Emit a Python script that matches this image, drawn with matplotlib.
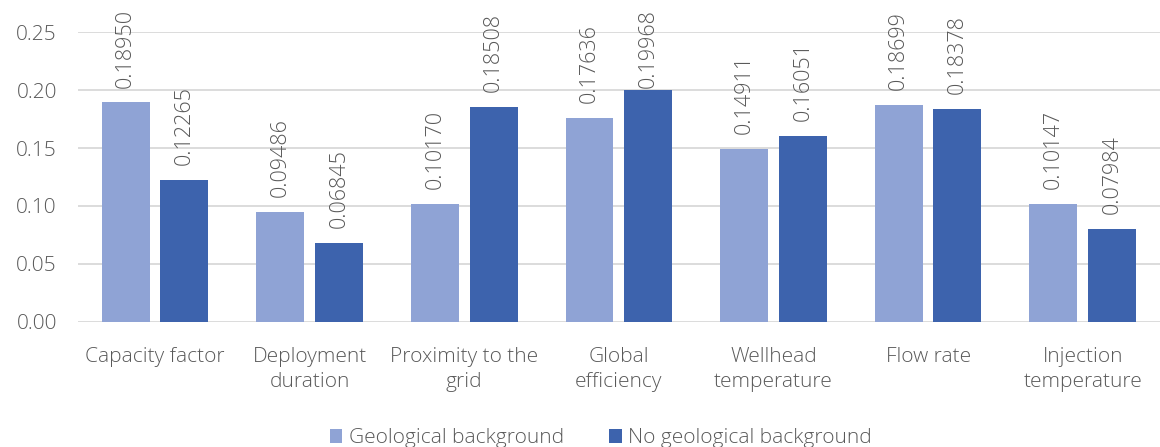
import matplotlib.pyplot as plt
import numpy as np

categories = ['Capacity factor', 'Deployment\nduration', 'Proximity to the\ngrid', 'Global\nefficiency',
              'Wellhead\ntemperature', 'Flow rate', 'Injection\ntemperature']
geo = [0.18950, 0.09486, 0.10170, 0.17636, 0.14911, 0.18699, 0.10147]
no_geo = [0.12265, 0.06845, 0.18508, 0.19968, 0.16051, 0.18378, 0.07984]
yticks = [0.00, 0.05, 0.10, 0.15, 0.20, 0.25]

plt.rcParams['font.family'] = ['Open Sans', 'DejaVu Sans']
plt.rcParams['font.weight'] = 'light'
txt = '#595959'

fig = plt.figure(figsize=(11.6, 4.47), dpi=100)
ax = fig.add_axes([0.067, 0.28, 0.933, 0.648])

x = np.arange(len(categories))
w = 0.31
off = 0.19
b1 = ax.bar(x - off, geo, w, color='#8FA3D5', label='Geological background', zorder=2)
b2 = ax.bar(x + off, no_geo, w, color='#3D63AD', label='No geological background', zorder=2)

ax.set_xlim(-0.5, len(categories) - 0.5)
ax.set_ylim(0, 0.25)

# labels sit ~15 px above the bar but are pushed down so they stay inside the figure
fig_h = fig.get_figheight() * fig.dpi
for bars, vals in ((b1, geo), (b2, no_geo)):
    for b, v in zip(bars, vals):
        top_px = ax.transData.transform((0, v))[1]
        gap_px = min(15, fig_h - 10 - 78 - top_px)
        ax.annotate(f'{v:.5f}', (b.get_x() + b.get_width() / 2, v), xytext=(0, gap_px * 0.72),
                    textcoords='offset points', rotation=90, ha='center', va='bottom',
                    fontsize=15.5, color=txt, annotation_clip=False)

ax.set_yticks(yticks)
ax.set_yticklabels([f'{t:.2f}' for t in yticks], fontsize=15, color=txt)
ax.set_xticks(x)
ax.set_xticklabels(categories, fontsize=15, color=txt, linespacing=1.35)
ax.tick_params(length=0, pad=18)
ax.tick_params(axis='y', pad=15)
ax.grid(axis='y', color='#D9D9D9', linewidth=1.3, zorder=0)
for s in ax.spines.values():
    s.set_visible(False)

fig.legend(loc='lower center', ncol=2, frameon=False, fontsize=15, labelcolor=txt,
           handlelength=0.6, handleheight=0.6, handletextpad=0.3, columnspacing=2.2,
           bbox_to_anchor=(0.518, -0.045))

fig.savefig('out.png', dpi=100)
